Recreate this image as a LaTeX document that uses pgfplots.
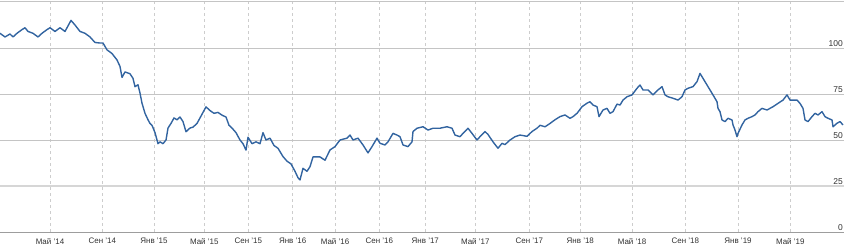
\documentclass[border=0pt]{standalone}
\usepackage{fontspec}
\setmainfont{Liberation Sans}
\usepackage{pgfplots}
\pgfplotsset{compat=1.18}
\definecolor{lineblue}{RGB}{50,100,160}
\definecolor{hgrid}{RGB}{196,196,196}
\definecolor{vgrid}{RGB}{205,205,205}
\definecolor{lbl}{RGB}{50,50,50}
\begin{document}
\begin{tikzpicture}[x=1bp,y=1bp]
\begin{axis}[
  at={(0,16bp)}, anchor=south west,
  scale only axis, width=844bp, height=232bp,
  xmin=0, xmax=844, ymin=0, ymax=126.09,
  axis line style={draw=none},
  tick style={draw=none},
  xtick={50,102.3,154,204.3,248.3,292.7,335,379.3,425.3,475.3,529.3,580.3,632,685.3,738,790.3},
  xticklabels={Май '14,Сен '14,Янв '15,Май '15,Сен '15,Янв '16,Май '16,Сен '16,Янв '17,Май '17,Сен '17,Янв '18,Май '18,Сен '18,Янв '19,Май '19},
  ytick={0,25,50,75,100},
  xmajorgrids, ymajorgrids,
  x grid style={vgrid, dash pattern=on 3bp off 3bp, line width=0.8bp},
  y grid style={hgrid, line width=0.9bp},
  yticklabel pos=right,
  yticklabel style={anchor=south east, inner sep=1bp, font=\fontsize{8.5}{10}\selectfont, text=lbl},
  xticklabel style={anchor=north, inner sep=0pt, yshift=-6bp, font=\fontsize{8}{10}\selectfont, text=lbl},
  /pgf/number format/assume math mode=true,
  clip=false,
]
\draw[hgrid!70, line width=2bp] (rel axis cs:0,0.1983) -- (rel axis cs:1,0.1983);
\addplot[lineblue, line width=1.4bp, line join=round] table {
x y
0 108
5 106
10 107.6
13 106
17 108
22 110
25 111
28 109
33 108
38 106
42 108
47 110
50 111
55 109
60 111
65 109
68 112
71 115
75 112.5
80 109
85 108
90 106
95 103
100 102.7
103 102.7
107 99
112 97
117 93.5
120 90
122 84
125 87
130 86
133 83.5
135 79
138 80
140 75.5
142 70
145 64.5
148 61
150 59
152 58
155 54
158 48
160 49
163 48
166 50
168 56.5
171 59
174 62
177 61
180 62.5
183 60
186 54.5
190 56.5
193 57
197 59
200 62
203 65
206 68
210 66
214 64.5
218 65
222 63.5
226 62.5
229 58
232 56.5
236 54
240 50
243 48
246 44.5
248 51.5
252 48
256 49
260 48
263 54
266 50
270 51
274 47
278 45.5
283 41
287 38.5
291 37
295 33
298 29.5
300 28.3
303 34.6
307 33
310 35.5
313 40.8
320 40.8
325 39
330 44.6
335 46.4
340 50
347 51
350 52.7
353 50
358 51
363 47.3
368 43
372 46.4
377 51
380 48.2
385 47.3
388 49
393 53.6
397 52.7
400 51.8
403 47.3
408 46.4
412 49
413 54.6
417 56.4
423 57.2
428 55.4
433 56.4
440 56.4
447 57.2
452 56.4
455 52.7
460 51.8
463 53.6
468 56.4
472 53.6
477 50
480 51.8
485 54.6
488 53
493 49
498 45.5
502 48.2
505 47.5
510 50
515 51.8
520 52.7
527 52
532 54.6
537 56.4
540 58
545 57.2
550 59
555 61
560 62.7
565 63.6
570 61.8
573 62.7
577 64.5
582 68.1
587 70
590 70.8
593 69
597 68.1
599 62.7
603 66.3
607 67.2
610 64.5
613 65.4
617 69.5
620 69
623 71.7
627 73.5
632 74.5
637 78.1
640 79.9
643 77.2
648 77.2
653 74.5
658 77.2
662 79
665 74.5
668 73.5
673 72.7
678 71.7
682 73.5
685 77.2
688 78.1
693 79
697 81.7
700 86.2
703 83.5
707 79.9
710 77.2
713 74.5
717 70.8
718 67.2
720 65.4
722 60.9
725 60
728 61.8
732 60.9
733 58.2
735 55.4
737 51.8
738 53.6
742 58.2
745 60.9
748 61.8
752 62.7
755 63.6
758 65.4
762 67.2
767 66.3
770 67.2
773 68.1
778 69.9
783 71.7
787 74.5
790 71.7
793 71.7
797 71.7
800 69.9
803 67.2
805 60.9
808 60
812 62.7
815 64.5
818 63.6
822 65.4
825 62.7
828 61.8
832 60.9
833 57.2
837 59.1
840 60
843 58.2
};
\draw[hgrid, line width=0.9bp] (rel axis cs:0,0.993) -- (rel axis cs:1,0.993);
\draw[hgrid!80!black, line width=1bp] (rel axis cs:0,0) -- (rel axis cs:1,0);
\end{axis}
\pgfresetboundingbox
\path[use as bounding box] (0,0) rectangle (844bp,248bp);
\end{tikzpicture}
\end{document}
